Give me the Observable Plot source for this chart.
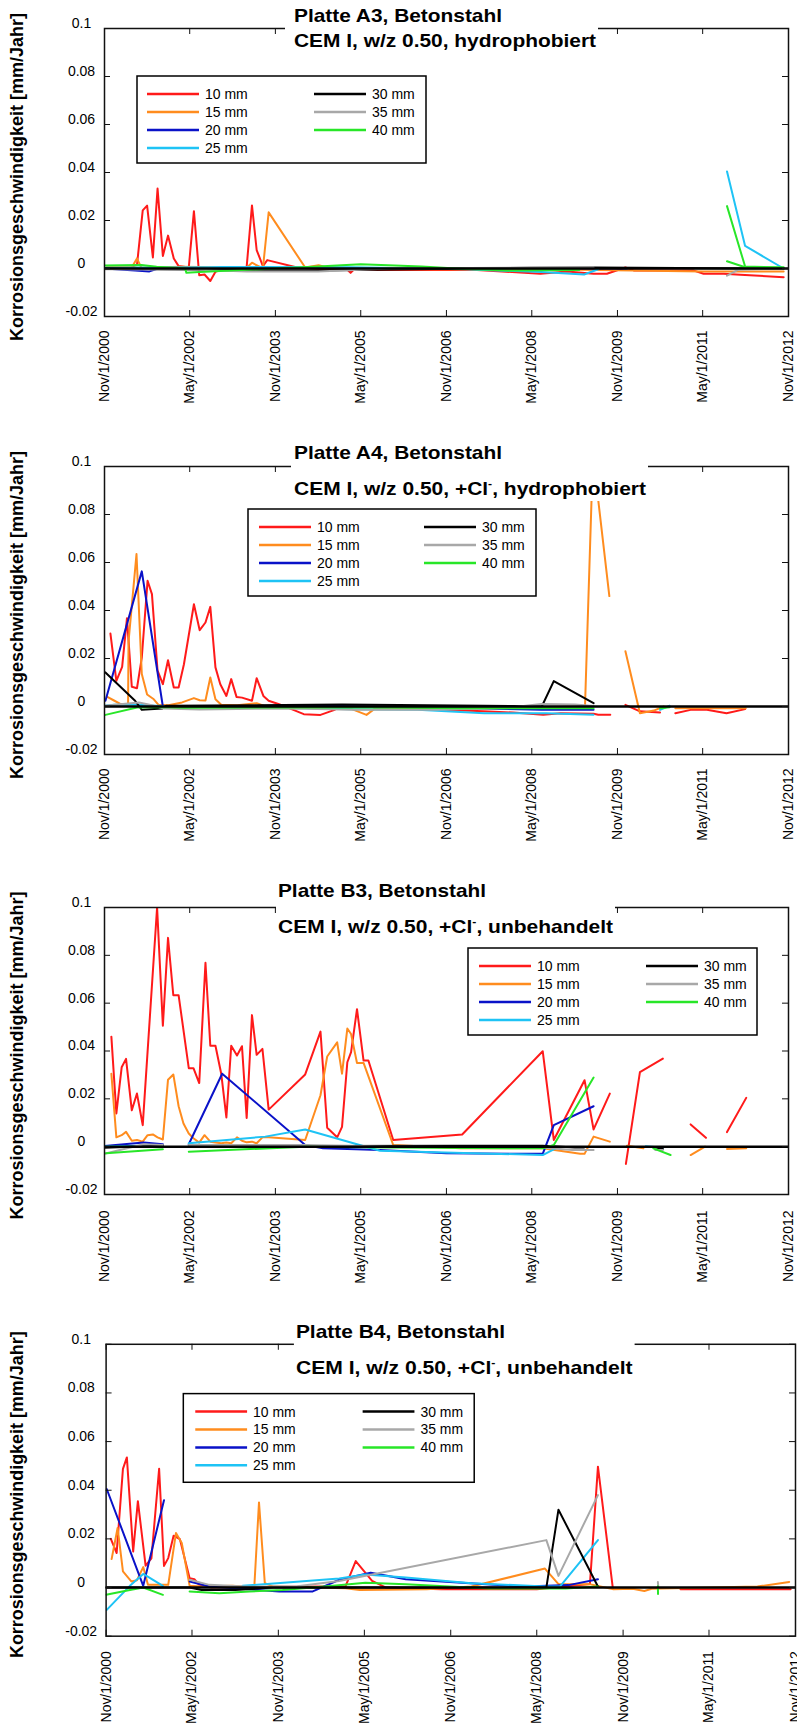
<!DOCTYPE html>
<html>
<head>
<meta charset="utf-8">
<script src="https://cdn.jsdelivr.net/npm/d3@7"></script>
<script src="https://cdn.jsdelivr.net/npm/@observablehq/plot@0.6"></script>
<style>
html, body { margin: 0; padding: 0; background: #fff; }
body { width: 797px; height: 1728px; overflow: hidden; position: relative; font-family: "Liberation Sans", Arial, Helvetica, sans-serif; }
.panel { position: absolute; left: 0; width: 797px; overflow: hidden; background: #fff; }
</style>
</head>
<body>
<script>
// ---------- shared categories / ticks ----------
const seriesNames = ["10 mm", "15 mm", "20 mm", "25 mm", "30 mm", "35 mm", "40 mm"];
const seriesColors = ["#ff1a1a", "#ff8c1e", "#0a12c8", "#1ec3f5", "#000000", "#a8a8a8", "#28e628"];
const xTickDates = ["2000-11-01", "2002-05-01", "2003-11-01", "2005-05-01", "2006-11-01", "2008-05-01", "2009-11-01", "2011-05-01", "2012-11-01"];
const xTickLabels = ["Nov/1/2000", "May/1/2002", "Nov/1/2003", "May/1/2005", "Nov/1/2006", "May/1/2008", "Nov/1/2009", "May/1/2011", "Nov/1/2012"];
const yTicks = [-0.02, 0, 0.02, 0.04, 0.06, 0.08, 0.1];
const yTickLabels = ["-0.02", "0", "0.02", "0.04", "0.06", "0.08", "0.1"];
const yAxisLabel = "Korrosionsgeschwindigkeit [mm/Jahr]";

// ---------- titles ----------
const titleA3 = "Platte A3, Betonstahl";
const subtitleA3 = ["CEM I, w/z 0.50, hydrophobiert", "", ""];
const titleA4 = "Platte A4, Betonstahl";
const subtitleA4 = ["CEM I, w/z 0.50, +Cl", "-", ", hydrophobiert"];
const titleB3 = "Platte B3, Betonstahl";
const subtitleB3 = ["CEM I, w/z 0.50, +Cl", "-", ", unbehandelt"];
const titleB4 = "Platte B4, Betonstahl";
const subtitleB4 = ["CEM I, w/z 0.50, +Cl", "-", ", unbehandelt"];

// ---------- Platte A3 (null = gap in the line) ----------
const a3_10mm = [["2001-05-01",0.001],["2001-05-28",0.0014],["2001-07-04",0.0242],["2001-08-01",0.0262],["2001-09-07",0.0046],["2001-10-07",0.0333],["2001-11-10",0.0052],["2001-12-13",0.0137],["2002-01-19",0.0042],["2002-02-19",0.001],["2002-04-25",0.0004],["2002-05-28",0.0239],["2002-07-01",-0.0028],["2002-08-04",-0.0025],["2002-09-10",-0.0052],["2002-10-13",-0.0014],["2002-11-16",-0.0005],["2003-05-01",0.0007],["2003-06-04",0.0263],["2003-07-04",0.0077],["2003-08-13",0.001],["2003-09-10",0.0035],["2004-03-19",0.0004],["2004-09-28",-0.0004],["2005-02-01",-0.0003],["2005-02-25",-0.0018],["2005-03-16",-0.0005],["2007-05-16",-0.0006],["2008-06-25",-0.0022],["2008-12-13",-0.0012],["2009-06-01",-0.0022],["2009-08-25",-0.0022],["2009-12-22",0.0004],["2010-02-13",-0.0008],["2011-03-01",-0.0008],["2011-05-07",-0.0022],["2011-09-13",-0.0022],["2011-12-28",-0.0026],["2012-10-01",-0.0036]];
const a3_15mm = [["2000-11-16",0.0005],["2001-04-25",0.0005],["2001-05-28",0.0042],["2001-06-25",0.0003],["2002-03-13",0.0007],["2003-05-01",0.0003],["2003-06-04",0.0024],["2003-08-13",0],["2003-09-19",0.0234],["2004-05-10",0.0004],["2004-08-04",0.0014],["2004-09-28",0.0004],["2005-06-01",-0.0002],["2009-03-01",-0.0005],["2011-05-01",-0.0012],["2012-10-01",-0.0012]];
const a3_20mm = [["2000-11-01",0],["2001-05-16",-0.0008],["2001-08-16",-0.0012],["2001-10-01",-0.0002],["2004-03-01",0.0002],["2010-01-01",0]];
const a3_25mm = [["2000-11-01",0.0003],["2002-09-01",0.0005],["2002-12-01",0.0006],["2005-03-01",0.0005],["2007-03-01",-0.0003],["2008-07-01",-0.0015],["2009-04-01",-0.0025],["2009-07-01",-0.0003],null,["2011-10-04",0.0404],["2012-01-28",0.0094],["2012-10-01",0]];
const a3_30mm = [["2000-11-01",0],["2003-05-01",-0.0008],["2004-08-01",-0.0008],["2008-05-01",0.0003],["2009-06-01",0.0004],["2012-10-01",0]];
const a3_35mm = [["2000-11-01",-0.0003],["2002-07-01",-0.0005],["2003-05-01",-0.0012],["2004-08-01",-0.0012],["2005-11-01",0],["2008-12-01",0.0004],["2009-06-01",0.0004],null,["2011-10-04",-0.003],["2011-12-16",-0.0005],["2012-10-01",0]];
const a3_40mm = [["2000-11-01",0.0013],["2001-06-25",0.0015],["2001-10-01",0.0007],["2002-04-01",0],["2002-04-10",-0.0018],["2002-07-01",-0.0015],["2003-05-01",-0.0005],["2004-08-01",0.0008],["2005-05-01",0.0018],["2006-05-25",0.0008],["2007-01-01",0],["2007-12-01",-0.0008],["2009-03-01",-0.0006],null,["2011-10-04",0.026],["2012-01-28",0.0008],["2012-10-01",0.0005],null,["2011-10-04",0.003],["2012-01-28",0.0005]];

// ---------- Platte A4 ----------
const a4_10mm = [["2000-12-09",0.0304],["2001-01-16",0.0107],["2001-02-22",0.0165],["2001-03-25",0.0368],["2001-04-25",0.0082],["2001-05-28",0.0076],["2001-06-28",0.0204],["2001-08-04",0.0524],["2001-09-01",0.0468],["2001-10-07",0.0149],["2001-11-10",0.0093],["2001-12-13",0.0193],["2002-01-19",0.0079],["2002-02-19",0.0079],["2002-03-25",0.0176],["2002-05-28",0.0426],["2002-07-04",0.0318],["2002-08-10",0.035],["2002-09-10",0.0415],["2002-10-13",0.0163],["2002-11-13",0.0093],["2002-12-22",0.0044],["2003-01-22",0.0114],["2003-02-25",0.004],["2003-04-01",0.0037],["2003-06-04",0.0024],["2003-07-04",0.0118],["2003-08-16",0.0044],["2003-09-19",0.0024],["2003-12-04",0.0007],["2004-02-28",-0.0015],["2004-05-01",-0.0032],["2004-08-16",-0.0035],["2004-11-10",-0.0015],["2004-12-16",-0.0004],["2005-04-22",0],["2007-06-25",-0.002],["2008-01-01",-0.0025],["2008-07-13",-0.0034],["2008-11-01",-0.0028],["2009-06-01",-0.003],["2009-07-01",-0.0034],["2009-09-16",-0.0034],null,["2009-12-22",0.0007],["2010-03-25",-0.002],["2010-08-01",-0.0025],null,["2010-11-07",-0.0028],["2011-02-13",-0.0014],["2011-05-28",-0.0014],["2011-10-01",-0.0028],["2012-01-28",-0.0011]];
const a4_15mm = [["2000-11-19",0.004],["2001-01-01",0.0025],["2001-02-13",0.001],["2001-04-01",0.0007],["2001-04-04",0.027],["2001-05-25",0.0635],["2001-06-28",0.0135],["2001-08-01",0.005],["2001-09-13",0.003],["2001-10-13",0.0007],["2001-12-16",0.0005],["2002-03-13",0.0017],["2002-05-28",0.0035],["2002-07-04",0.0026],["2002-08-10",0.0025],["2002-09-10",0.0121],["2002-10-13",0.003],["2002-11-19",0.0007],["2003-03-01",0.0005],["2003-07-04",0.0014],["2003-09-01",0],["2004-08-01",-0.0005],["2005-03-01",-0.001],["2005-06-07",-0.0035],["2005-08-01",-0.0008],["2007-07-01",-0.0005],["2009-04-07",0],["2009-05-28",0.105],["2009-09-10",0.046],null,["2009-12-22",0.023],["2010-03-25",-0.0028],["2010-06-22",-0.0017],["2010-08-25",0],null,["2010-11-07",-0.0007],["2012-02-01",-0.0007]];
const a4_20mm = [["2000-11-07",0.0024],["2001-06-28",0.0563],["2001-11-10",0],["2002-03-01",0.0002],["2005-01-01",0.0002],["2007-07-01",-0.0008],["2008-07-01",-0.0014],["2009-06-01",-0.0014]];
const a4_25mm = [["2000-11-01",0.0003],["2001-01-01",0.0007],["2001-06-01",0.0007],["2001-11-01",0.0002],["2003-05-01",-0.0003],["2005-03-01",-0.0011],["2006-05-01",-0.0014],["2007-07-01",-0.0028],["2008-08-01",-0.0028],["2009-06-01",-0.0034],null,["2010-08-01",-0.0014],["2010-10-01",0.0003]];
const a4_30mm = [["2000-11-07",0.0142],["2001-05-16",0.0024],["2001-06-28",-0.0014],["2001-11-07",-0.0008],["2001-12-01",0.0003],["2005-01-01",0.0008],["2007-07-01",0.0003],["2008-07-04",0],["2008-09-19",0.0106],["2009-06-01",0.0014]];
const a4_35mm = [["2000-11-01",0.0003],["2001-04-01",0.0012],["2001-06-10",0.0017],["2001-09-01",0.0005],["2001-11-16",-0.0008],["2002-07-01",-0.0012],["2004-03-01",-0.0008],["2005-03-01",-0.0014],["2006-09-01",-0.0014],["2007-12-01",-0.0005],["2008-07-01",0.001],["2009-02-01",0.0008],["2009-06-01",0.0002]];
const a4_40mm = [["2000-11-07",-0.0035],["2001-05-28",-0.0004],["2001-11-01",-0.0002],["2002-04-01",-0.0005],["2005-11-01",-0.0004],["2007-02-01",-0.0007],["2009-06-01",-0.0007],null,["2010-08-01",-0.0007],["2010-10-01",-0.0003]];

// ---------- Platte B3 ----------
const b3_10mm = [["2000-12-15",0.046],["2001-01-16",0.0139],["2001-02-19",0.0332],["2001-03-19",0.0367],["2001-04-25",0.0152],["2001-05-28",0.0222],["2001-07-04",0.009],["2001-10-04",0.1],["2001-11-10",0.0506],["2001-12-13",0.0873],["2002-01-16",0.0633],["2002-02-19",0.0633],["2002-04-25",0.0328],["2002-05-25",0.0328],["2002-07-01",0.0266],["2002-08-10",0.0769],["2002-09-10",0.0422],["2002-10-13",0.0422],["2002-11-19",0.0305],["2002-12-22",0.0122],["2003-01-22",0.0422],["2003-02-28",0.0381],["2003-04-01",0.042],["2003-05-01",0.012],["2003-06-04",0.055],["2003-07-04",0.0384],["2003-08-10",0.0409],["2003-09-19",0.0155],["2004-05-10",0.0302],["2004-08-16",0.0481],["2004-09-28",0.0079],["2004-12-01",0.0039],["2005-01-01",0.0083],["2005-02-04",0.0353],["2005-02-28",0.0395],["2005-04-07",0.0575],["2005-05-19",0.036],["2005-06-19",0.036],["2005-11-25",0.0028],["2007-02-10",0.0051],["2008-07-10",0.0399],["2008-09-19",0.0028],["2009-04-04",0.0278],["2009-06-01",0.0072],["2009-09-13",0.0222],null,["2009-12-25",-0.0072],["2010-03-25",0.0312],["2010-08-19",0.0368],null,["2011-02-13",0.0093],["2011-05-22",0.0037],null,["2011-10-04",0.0061],["2012-02-04",0.0204]];
const b3_15mm = [["2000-12-15",0.0305],["2001-01-16",0.0039],["2001-02-19",0.0048],["2001-03-19",0.0062],["2001-04-25",0.0025],["2001-05-28",0.0028],["2001-07-04",0.0021],["2001-08-04",0.0048],["2001-09-07",0.0051],["2001-10-07",0.0039],["2001-11-10",0.003],["2001-12-13",0.028],["2002-01-16",0.0302],["2002-02-19",0.0169],["2002-03-22",0.0097],["2002-04-25",0.0055],["2002-05-25",0.0035],["2002-07-01",0.0017],["2002-08-04",0.0048],["2002-09-10",0.0021],["2002-10-13",0.0017],["2002-11-19",0.0014],["2002-12-22",0.0017],["2003-01-22",0.0014],["2003-02-28",0.0039],["2003-04-01",0.0025],["2003-05-01",0.0018],["2003-06-04",0.0021],["2003-07-04",0.0014],["2003-08-10",0.0039],["2003-09-19",0.0039],["2004-05-10",0.0028],["2004-08-16",0.0215],["2004-09-28",0.0377],["2004-12-01",0.0436],["2005-01-01",0.0305],["2005-02-04",0.0494],["2005-02-28",0.0471],["2005-04-07",0.035],["2005-05-19",0.035],["2005-11-25",0.0007],["2007-02-01",-0.0007],["2008-07-10",-0.0007],["2009-03-07",-0.003],["2009-04-04",-0.003],["2009-06-01",0.0042],["2009-09-13",0.0021],null,["2010-01-01",0.0004],["2010-04-16",-0.0007],null,["2011-02-13",-0.0035],["2011-05-16",0],null,["2011-10-04",-0.001],["2012-02-04",-0.0007]];
const b3_20mm = [["2000-11-01",0.0003],["2001-07-10",0.0017],["2001-11-10",0.001],null,["2002-04-25",0.001],["2002-11-25",0.0305],["2004-05-10",0.0007],["2004-09-01",-0.0007],["2005-09-01",-0.0014],["2006-11-01",-0.0028],["2008-07-10",-0.003],["2008-07-28",0],["2008-09-19",0.009],["2009-06-01",0.0169]];
const b3_25mm = [["2000-11-01",0.0002],["2001-11-10",0.0005],null,["2002-04-25",0.0014],["2003-08-28",0.0042],["2004-05-10",0.0072],["2005-04-07",0.001],["2005-09-01",-0.0017],["2008-07-10",-0.0035],["2008-10-01",-0.0007],null,["2010-05-01",0.0002],["2010-08-19",-0.0005]];
const b3_30mm = [["2000-11-01",-0.0005],["2001-11-10",0.0005],null,["2002-04-25",0.0003],["2004-05-10",0.0003],["2007-02-01",0.0004],["2008-07-10",0.0004],["2009-02-01",-0.0004],["2009-04-01",-0.0004],null,["2010-07-01",-0.0003],["2010-08-19",-0.001]];
const b3_35mm = [["2000-11-01",-0.003],["2001-07-10",0.001],["2001-11-10",0.0007],null,["2002-04-25",0.0007],["2004-05-10",0.0007],["2005-11-01",0],["2008-07-01",-0.0003],["2009-01-16",-0.0014],["2009-06-01",-0.0014],null,["2010-07-01",-0.0014],["2010-08-19",-0.0014]];
const b3_40mm = [["2000-11-11",-0.0028],["2001-11-10",-0.0011],null,["2002-04-25",-0.0021],["2004-05-10",0],["2005-11-01",-0.0004],["2008-07-10",-0.0007],["2008-09-19",0.0007],["2009-06-01",0.0289],null,["2010-06-19",-0.0007],["2010-10-07",-0.0035]];

// ---------- Platte B4 ----------
const b4_10mm = [["2000-12-01",0.02],["2001-01-07",0.0142],["2001-02-16",0.0488],["2001-03-13",0.0535],["2001-04-22",0.0148],["2001-05-22",0.0355],["2001-07-10",0.009],["2001-08-16",0.012],["2001-10-04",0.0488],["2001-11-04",0.0089],["2001-12-01",0.0121],["2002-01-04",0.0213],["2002-02-13",0.0199],["2002-04-16",0.0038],["2002-05-16",0.0034],["2002-06-16",0.0011],["2002-09-01",0],["2003-05-01",0.0002],["2004-03-01",0.0003],["2005-01-01",0.0005],["2005-03-07",0.0109],["2005-06-19",0.0027],["2005-09-16",0],["2006-09-01",-0.0007],["2008-05-01",-0.0007],["2009-04-04",0.0014],["2009-05-25",0.0497],["2009-08-28",-0.0004],null,["2010-11-01",-0.0007],["2012-10-01",-0.0007]];
const b4_15mm = [["2000-12-06",0.0117],["2001-01-13",0.0245],["2001-02-16",0.0066],["2001-04-10",0.0025],["2001-05-16",0.003],["2001-06-25",0.0084],["2001-07-25",0.0011],["2001-12-01",0.0011],["2002-01-19",0.0224],["2002-02-25",0.0183],["2002-04-16",0.0007],["2002-07-01",0.0004],["2003-01-16",0.0007],["2003-06-01",0],["2003-07-01",0.035],["2003-08-07",0.0018],["2003-10-01",0.0004],["2005-01-01",-0.0003],["2005-04-01",-0.001],["2006-06-01",-0.0007],["2007-03-13",0.0004],["2008-06-22",0.0078],["2008-09-16",0.0014],["2009-04-01",0.0014],["2009-09-01",-0.0007],["2010-01-01",-0.0005],["2010-03-16",-0.0014],["2010-05-01",-0.0005],["2012-03-04",0.0004],["2012-09-22",0.0023]];
const b4_20mm = [["2000-11-05",0.0405],["2001-06-25",0.0007],["2001-11-04",0.0359],null,["2002-04-16",0.0025],["2002-08-19",0.0004],["2003-11-07",-0.0016],["2004-06-07",-0.0016],["2004-11-22",0.0032],["2005-06-10",0.0061],["2006-01-19",0.0034],["2008-02-16",0.0004],["2008-11-19",0.001],["2009-05-25",0.0034]];
const b4_25mm = [["2000-11-05",-0.0092],["2001-04-01",0.0007],["2001-06-25",0.0056],["2001-10-28",0.0007],null,["2003-03-19",0.0007],["2004-11-22",0.0037],["2005-05-07",0.0054],["2006-01-19",0.0041],["2007-03-13",0.0018],["2008-06-22",0.0004],["2008-09-25",0.0004],["2009-05-25",0.0195]];
const b4_30mm = [["2000-11-01",0],["2002-04-16",0],["2002-07-01",-0.001],["2003-02-01",-0.001],["2003-10-01",0],["2008-07-01",0],["2008-09-16",0.032],["2009-05-25",0.0004]];
const b4_35mm = [["2002-04-16",0.0032],["2002-08-19",0.0011],["2003-05-01",0.0003],["2004-03-01",0.0005],["2004-11-22",0.0027],["2008-07-01",0.0195],["2008-09-16",0.0048],["2009-05-25",0.038],null,["2010-06-10",0.0023],["2010-06-13",0]];
const b4_40mm = [["2000-11-01",-0.003],["2001-04-01",-0.001],["2001-06-25",0],["2001-10-28",-0.003],null,["2002-04-16",-0.0016],["2002-10-22",-0.0023],["2003-05-01",-0.0016],["2003-11-28",-0.001],["2004-11-01",0.0008],["2005-05-07",0.002],["2006-01-19",0.0014],["2007-07-01",-0.0004],["2008-11-01",-0.0004],["2009-05-25",0.0004],null,["2010-06-10",0.0005],["2010-06-11",-0.0027]];

// ---------- layout (positions only) ----------
const panels = [
  { top: 0, height: 430, width: 797, mL: 104, mR: 9, mT: 28, mB: 114, title: titleA3, sub: subtitleA3,
    series: [a3_10mm, a3_15mm, a3_20mm, a3_25mm, a3_30mm, a3_35mm, a3_40mm],
    t: { textX: 294, boxX: 285, base1: 21.7, base2: 46.7, w1: 208, w2: 302, boxTop: 3 },
    leg: { x: 137, y: 76, w: 289, h: 87, c1: 10, c2: 177 }, xPad: 14 },
  { top: 430, height: 430, width: 797, mL: 104, mR: 9, mT: 36, mB: 106, title: titleA4, sub: subtitleA4,
    series: [a4_10mm, a4_15mm, a4_20mm, a4_25mm, a4_30mm, a4_35mm, a4_40mm],
    t: { textX: 294, boxX: 291, base1: 29.3, base2: 65, w1: 208, w2: 352, boxTop: 11 },
    leg: { x: 248, y: 79, w: 288, h: 87, c1: 11, c2: 176 }, xPad: 14 },
  { top: 860, height: 430, width: 797, mL: 104, mR: 9, mT: 47, mB: 96, title: titleB3, sub: subtitleB3,
    series: [b3_10mm, b3_15mm, b3_20mm, b3_25mm, b3_30mm, b3_35mm, b3_40mm],
    t: { textX: 278, boxX: 276, base1: 37.3, base2: 72.7, w1: 208, w2: 335, boxTop: 19 },
    leg: { x: 468, y: 88, w: 289, h: 87, c1: 11, c2: 178 }, xPad: 16 },
  { top: 1290, height: 438, width: 800, mL: 106, mR: 2, mT: 54, mB: 91, title: titleB4, sub: subtitleB4,
    series: [b4_10mm, b4_15mm, b4_20mm, b4_25mm, b4_30mm, b4_35mm, b4_40mm],
    t: { textX: 297, boxX: 295, base1: 48.3, base2: 84.3, w1: 210, w2: 338, boxTop: 30 },
    leg: { x: 184, y: 104, w: 292, h: 89, c1: 12, c2: 180 }, xPad: 15 }
];

const FONT = "'Liberation Sans', Arial, Helvetica, sans-serif";
const xDomain = [new Date("2000-11-01"), new Date("2012-11-01")];
const xTicks = xTickDates.map(d => new Date(d));
const xLabelMap = new Map(xTicks.map((d, i) => [+d, xTickLabels[i]]));
const yLabelMap = new Map(yTicks.map((d, i) => [d, yTickLabels[i]]));

function toRows(arr) {
  const out = [];
  let last = xDomain[0];
  for (const p of arr) {
    if (p === null) out.push({ date: last, value: NaN });
    else { last = new Date(p[0]); out.push({ date: last, value: p[1] }); }
  }
  return out;
}

for (const cfg of panels) {
  const div = document.createElement("div");
  div.className = "panel";
  div.style.top = cfg.top + "px";
  div.style.height = cfg.height + "px";
  document.body.appendChild(div);

  const plotW = cfg.width - cfg.mL - cfg.mR;
  const plotH = cfg.height - cfg.mT - cfg.mB;
  const marks = [];
  cfg.series.forEach((s, i) => {
    marks.push(Plot.line(toRows(s), { x: "date", y: "value", stroke: seriesColors[i], strokeWidth: 2, clip: true }));
  });
  marks.push(Plot.ruleY([0], { stroke: "black", strokeWidth: 2.5 }));
  marks.push(Plot.frame({ stroke: "#111", strokeWidth: 1.5 }));
  marks.push(Plot.tickX(xTicks, { x: d => d, stroke: "#111", insetTop: plotH - 6 }));
  marks.push(Plot.tickX(xTicks, { x: d => d, stroke: "#111", insetBottom: plotH - 6 }));
  marks.push(Plot.tickY(yTicks, { y: d => d, stroke: "#111", insetRight: plotW - 6 }));
  marks.push(Plot.tickY(yTicks, { y: d => d, stroke: "#111", insetLeft: plotW - 6 }));
  marks.push(Plot.axisX(xTicks, { label: null, tickSize: 0, tickRotate: -90, tickPadding: cfg.xPad, tickFormat: d => xLabelMap.get(+d), fontSize: 14, fill: "black" }));
  marks.push(Plot.axisY(yTicks, { label: null, tickSize: 0, tickPadding: cfg.mL - 81, textAnchor: "middle", dy: -5, tickFormat: d => yLabelMap.get(d), fontSize: 14, fill: "black" }));
  marks.push(Plot.text([yAxisLabel], { text: d => d, frameAnchor: "left", rotate: -90, dx: 17 - cfg.mL, dy: 4.5, fontWeight: "bold", fontSize: 18, textAnchor: "middle", fill: "black" }));

  const svg = Plot.plot({
    width: cfg.width, height: cfg.height,
    marginLeft: cfg.mL, marginRight: cfg.mR, marginTop: cfg.mT, marginBottom: cfg.mB,
    x: { type: "utc", domain: xDomain, label: null },
    y: { domain: [-0.02, 0.1], label: null },
    style: { fontFamily: FONT, fontSize: "14px", background: "white", color: "black", overflow: "hidden" },
    marks
  });
  div.appendChild(svg);

  const s = d3.select(svg);
  // title block with white background that interrupts the top frame
  const tg = s.append("g").attr("text-anchor", "start");
  const t = cfg.t;
  tg.append("rect").attr("x", t.boxX).attr("y", t.boxTop)
    .attr("width", t.textX + t.w2 + 2 - t.boxX).attr("height", t.base2 + 6 - t.boxTop).attr("fill", "white");
  tg.append("text").attr("x", t.textX).attr("y", t.base1).attr("text-anchor", "start")
    .attr("font-family", FONT).attr("font-weight", "bold").attr("font-size", 19)
    .attr("textLength", t.w1).attr("lengthAdjust", "spacingAndGlyphs").attr("fill", "black").text(cfg.title);
  const t2 = tg.append("text").attr("x", t.textX).attr("y", t.base2).attr("text-anchor", "start")
    .attr("font-family", FONT).attr("font-weight", "bold").attr("font-size", 19)
    .attr("textLength", t.w2).attr("lengthAdjust", "spacingAndGlyphs").attr("fill", "black");
  t2.append("tspan").text(cfg.sub[0]);
  if (cfg.sub[1]) {
    t2.append("tspan").attr("dy", -8).attr("font-size", 11).text(cfg.sub[1]);
    t2.append("tspan").attr("dy", 8).text(cfg.sub[2]);
  }

  // legend
  const L = cfg.leg;
  const lg = s.append("g").attr("text-anchor", "start");
  lg.append("rect").attr("x", L.x).attr("y", L.y).attr("width", L.w).attr("height", L.h)
    .attr("fill", "white").attr("stroke", "black").attr("stroke-width", 1.5);
  seriesNames.forEach((name, i) => {
    const col = i < 4 ? 0 : 1;
    const row = i < 4 ? i : i - 4;
    const lx = L.x + (col ? L.c2 : L.c1);
    const ly = L.y + 18 * (row + 1);
    lg.append("line").attr("x1", lx).attr("x2", lx + 52).attr("y1", ly).attr("y2", ly)
      .attr("stroke", seriesColors[i]).attr("stroke-width", 2.5);
    lg.append("text").attr("x", lx + 58).attr("y", ly + 5).attr("text-anchor", "start")
      .attr("font-family", FONT).attr("font-size", 14).attr("fill", "black").text(name);
  });
}
</script>
</body>
</html>
